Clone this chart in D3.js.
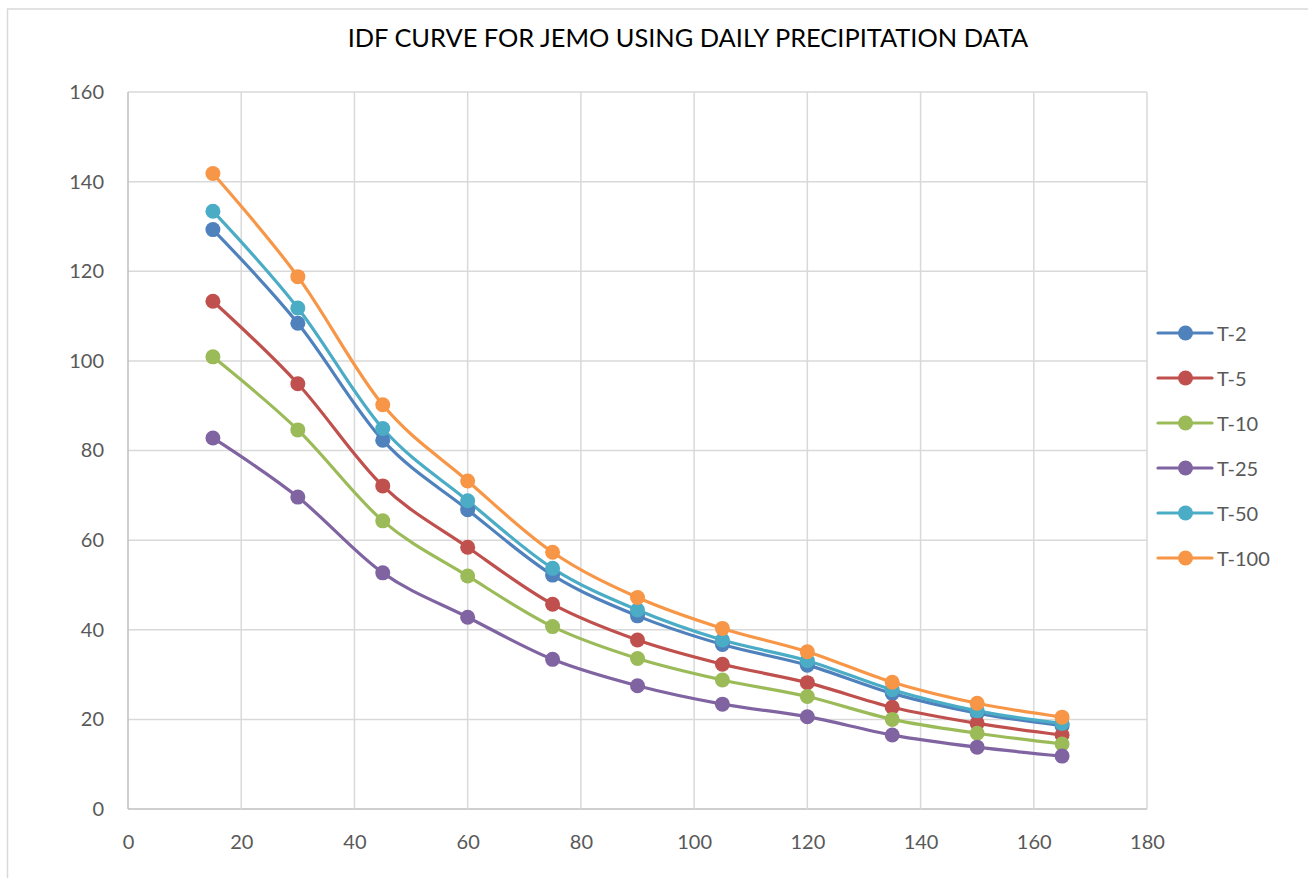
<!DOCTYPE html>
<html>
<head>
<meta charset="utf-8">
<script src="https://cdn.jsdelivr.net/npm/d3@7"></script>
<style>
  body { margin: 0; background: #fff; }
  svg { display: block; font-family: Lato, "Open Sans", sans-serif; }
</style>
</head>
<body>
<div id="chart"></div>
<script>
// IDF curve data (duration in minutes vs intensity)
const durations = [15, 30, 45, 60, 75, 90, 105, 120, 135, 150, 165];
const seriesNames = ["T-2", "T-5", "T-10", "T-25", "T-50", "T-100"];
const t2   = [129.3, 108.4, 82.3, 66.8, 52.2, 43.1, 36.7, 32.1, 25.8, 21.4, 18.6];
const t5   = [113.3, 94.9, 72.1, 58.4, 45.7, 37.7, 32.3, 28.2, 22.7, 19.1, 16.5];
const t10  = [100.9, 84.6, 64.3, 52.0, 40.7, 33.6, 28.8, 25.1, 20.0, 16.9, 14.5];
const t25  = [82.8, 69.6, 52.7, 42.8, 33.4, 27.5, 23.4, 20.6, 16.5, 13.8, 11.8];
const t50  = [133.4, 111.8, 84.9, 68.8, 53.7, 44.4, 37.7, 33.1, 26.6, 21.9, 19.1];
const t100 = [141.8, 118.8, 90.2, 73.2, 57.3, 47.2, 40.3, 35.1, 28.3, 23.6, 20.5];
const seriesValues = [t2, t5, t10, t25, t50, t100];
const colors = ["#4F81BD", "#C0504D", "#9BBB59", "#8064A2", "#4BACC6", "#F79646"];
const xTicks = [0, 20, 40, 60, 80, 100, 120, 140, 160, 180];
const yTicks = [0, 20, 40, 60, 80, 100, 120, 140, 160];

const width = 1308;
const height = 878;
const margin = { top: 92, right: 161, bottom: 69, left: 128 };
const plotWidth = width - margin.left - margin.right;
const plotHeight = height - margin.top - margin.bottom;

const svg = d3.select("#chart")
    .append("svg")
    .attr("width", width)
    .attr("height", height);

// chart frame (runs off the right and bottom edges)
svg.append("rect")
    .attr("x", 7.5)
    .attr("y", 9)
    .attr("width", width + 20)
    .attr("height", height + 20)
    .attr("fill", "#fff")
    .attr("stroke", "#d9d9d9")
    .attr("stroke-width", 1.5);

const g = svg.append("g")
    .attr("transform", `translate(${margin.left},${margin.top})`);

const x = d3.scaleLinear().domain([0, 180]).range([0, plotWidth]);
const y = d3.scaleLinear().domain([0, 160]).range([plotHeight, 0]);

// gridlines
g.append("g")
    .selectAll("line")
    .data(yTicks)
    .join("line")
    .attr("x1", 0)
    .attr("x2", plotWidth)
    .attr("y1", d => y(d))
    .attr("y2", d => y(d))
    .attr("stroke", d => d === 0 ? "#bfbfbf" : "#d9d9d9")
    .attr("stroke-width", 1.5);

g.append("g")
    .selectAll("line")
    .data(xTicks)
    .join("line")
    .attr("x1", d => x(d))
    .attr("x2", d => x(d))
    .attr("y1", 0)
    .attr("y2", plotHeight)
    .attr("stroke", d => d === 0 ? "#bfbfbf" : "#d9d9d9")
    .attr("stroke-width", 1.5);

// axes labels (no tick marks, like Excel)
const xAxis = g.append("g")
    .attr("transform", `translate(0,${plotHeight})`)
    .call(d3.axisBottom(x).tickValues(xTicks).tickSize(0).tickPadding(26));
const yAxis = g.append("g")
    .call(d3.axisLeft(y).tickValues(yTicks).tickSize(0).tickPadding(24));

[xAxis, yAxis].forEach(a => {
    a.select(".domain").remove();
    a.selectAll("text")
        .attr("fill", "#595959")
        .style("font-size", "20px")
        .style("font-family", "Lato, 'Open Sans', sans-serif");
});

// lines, smoothed
const line = d3.line()
    .x(d => x(d[0]))
    .y(d => y(d[1]))
    .curve(d3.curveCatmullRom.alpha(0));

seriesValues.forEach((vals, i) => {
    const pts = durations.map((d, j) => [d, vals[j]]);
    g.append("path")
        .datum(pts)
        .attr("fill", "none")
        .attr("stroke", colors[i])
        .attr("stroke-width", 3.2)
        .attr("stroke-linejoin", "round")
        .attr("d", line);
});

seriesValues.forEach((vals, i) => {
    const pts = durations.map((d, j) => [d, vals[j]]);
    g.append("g")
        .selectAll("circle")
        .data(pts)
        .join("circle")
        .attr("cx", d => x(d[0]))
        .attr("cy", d => y(d[1]))
        .attr("r", 7.5)
        .attr("fill", colors[i]);
});

// title
svg.append("text")
    .attr("x", 688)
    .attr("y", 47)
    .attr("text-anchor", "middle")
    .attr("fill", "#000")
    .style("font-size", "25.4px")
    .text("IDF CURVE FOR JEMO USING DAILY PRECIPITATION DATA");

// legend
const legend = svg.append("g")
    .attr("transform", "translate(1158,333)");

seriesNames.forEach((name, i) => {
    const row = legend.append("g")
        .attr("transform", `translate(0,${i * 45})`);
    row.append("line")
        .attr("x1", 0)
        .attr("x2", 54)
        .attr("stroke", colors[i])
        .attr("stroke-width", 3.2)
        .attr("stroke-linecap", "round");
    row.append("circle")
        .attr("cx", 27.5)
        .attr("r", 7.5)
        .attr("fill", colors[i]);
    row.append("text")
        .attr("x", 59)
        .attr("y", 7.5)
        .attr("fill", "#595959")
        .style("font-size", "20px")
        .text(name);
});
</script>
</body>
</html>
